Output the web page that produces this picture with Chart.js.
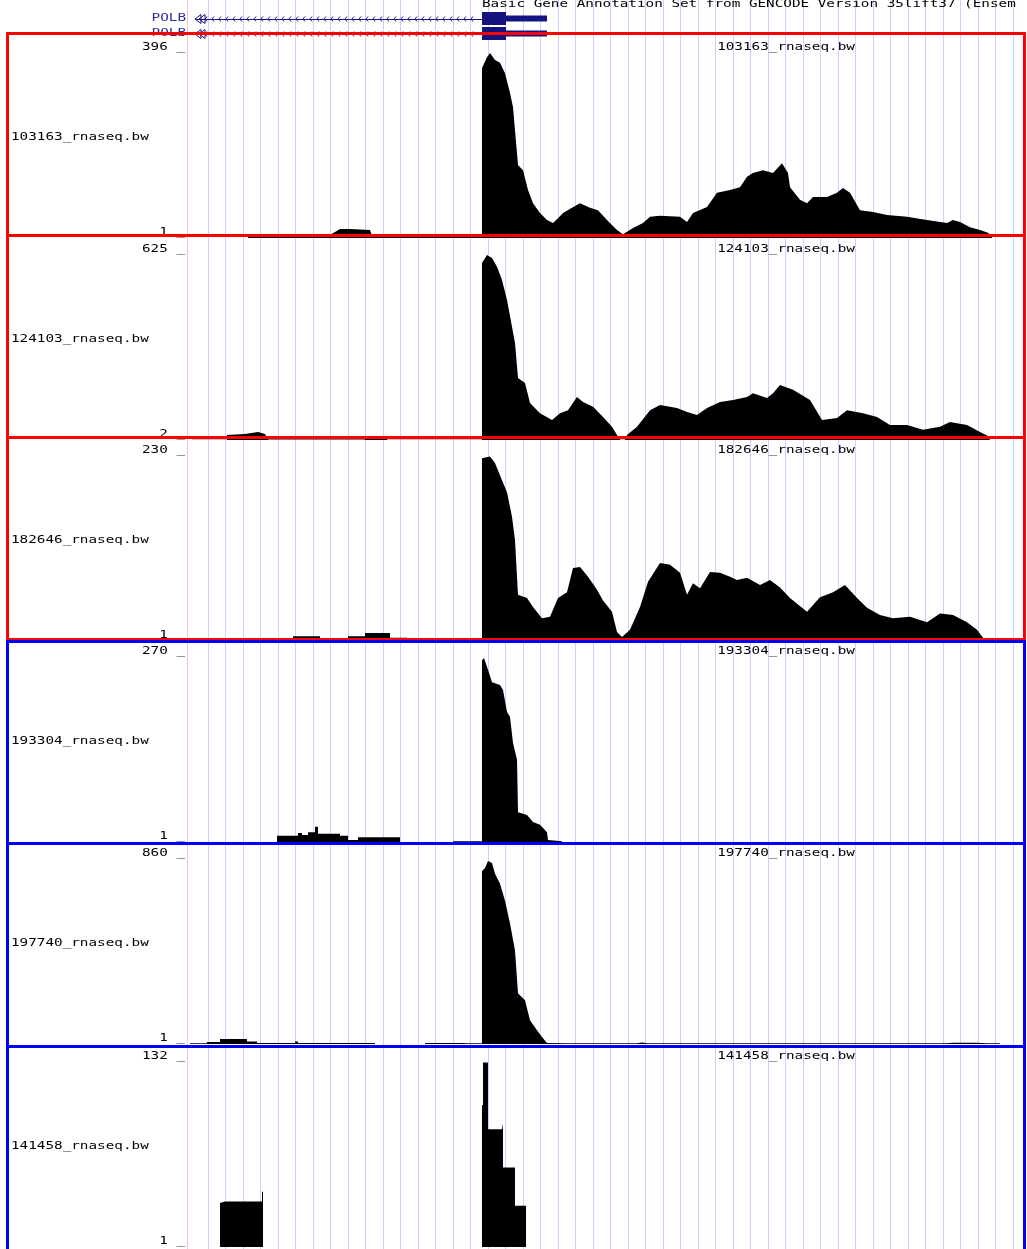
<!DOCTYPE html>
<html><head><meta charset="utf-8">
<script src="https://cdn.jsdelivr.net/npm/chart.js@4/dist/chart.umd.min.js"></script>
<style>
html,body{margin:0;padding:0;background:#fff;}
#wrap{position:relative;width:1027px;height:1249px;overflow:hidden;background:#fff;}
#wrap canvas{position:absolute;left:0;}
.box{position:absolute;box-sizing:border-box;border:3px solid;pointer-events:none;z-index:5;}
</style></head><body><div id="wrap"><canvas id="bg" width="1027" height="1249" style="top:0"></canvas></div>
<script>
// ---------- data (x = position along the window, y = coverage) ----------
const trackNames = ['103163_rnaseq.bw','124103_rnaseq.bw','182646_rnaseq.bw','193304_rnaseq.bw','197740_rnaseq.bw','141458_rnaseq.bw'];
const trackMax = [396, 625, 230, 270, 860, 132];
const trackMin = [1, 2, 1, 1, 1, 1];
const trackBoxColor = ['#ff0000','#ff0000','#ff0000','#0000ff','#0000ff','#0000ff'];

const t1X = [61,61,103,141,148,153,163,183,185,295,295,300,303,305,308,313,318,323,326,328,331,336,341,346,353,360,366,371,376,385,393,403,411,420,430,436,446,456,463,473,493,500,506,520,530,543,553,560,566,576,586,595,601,603,613,620,626,640,650,656,663,673,686,700,720,740,760,766,773,783,793,801,805,805];
const t1Y = [1,3,4,5,14,20,20,18,5,5,362,385,394,388,379,373,351,309,279,230,156,145,103,75,54,39,33,43,54,65,75,65,60,39,18,9,22,33,46,48,46,35,54,67,97,103,109,131,139,145,139,160,139,109,82,75,88,88,97,107,97,60,56,50,46,39,33,39,35,24,18,12,3,1];

const t2X = [5,40,40,58,71,78,81,178,178,200,200,295,295,300,305,310,315,320,325,328,331,338,343,353,365,373,381,390,396,406,416,425,430,433,438,440,450,463,473,490,500,510,520,533,546,560,566,580,586,593,606,623,635,650,660,676,690,703,720,736,753,763,780,793,801,803];
const t2Y = [3,3,19,22,29,22,4,4,6,6,3,3,595,622,612,582,538,471,381,327,210,193,126,92,69,92,102,146,129,113,79,46,19,3,3,19,46,102,119,109,96,86,109,129,136,146,159,143,159,186,170,136,69,76,102,92,79,52,52,36,46,62,52,29,15,2];

const t3X = [0,93,93,106,106,133,133,146,146,161,161,178,178,203,203,208,220,220,295,295,303,308,315,320,325,328,331,340,346,355,363,371,380,386,393,401,410,416,425,430,435,443,453,461,473,483,493,500,506,513,523,533,543,550,560,573,583,593,603,620,633,646,658,670,680,693,706,723,740,753,766,780,790,796,803];
const t3Y = [2,2,4,4,7,7,4,4,2,2,7,7,11,11,5,5,5,2,2,226,228,220,199,184,154,125,58,54,43,29,31,54,61,91,92,80,64,51,37,12,6,15,43,74,97,95,85,58,72,66,86,85,80,76,79,70,76,67,54,37,55,61,70,54,42,33,29,31,24,35,33,24,15,5,1];

const t4X = [90,90,111,111,115,115,121,121,128,128,131,131,153,153,161,161,171,171,213,213,266,266,295,295,297,301,305,313,316,320,323,326,330,331,340,346,353,360,361,375,375];
const t4Y = [1,10,10,14,14,11,11,15,15,23,23,13,13,10,10,4,4,8,8,1,1,2,2,264,267,250,232,228,221,189,182,144,120,44,40,30,26,15,4,2,1];

const t5X = [3,20,20,33,33,60,60,70,70,108,108,111,111,188,188,238,238,278,278,295,295,298,301,305,308,313,318,323,328,331,338,343,350,355,360,380,450,455,460,520,760,765,790,800,813,813];
const t5Y = [5,5,10,10,24,24,12,12,6,6,12,12,6,6,1,1,6,6,4,4,800,814,846,837,787,741,663,557,433,235,203,111,65,33,6,4,4,8,4,4,4,7,7,4,4,1];

const t6X = [33,33,38,75,75,76,76,295,295,296,296,301,301,315,316,316,328,328,339,339];
const t6Y = [1,32,33,33,40,40,1,1,101,101,131,131,84,84,88,57,57,30,30,1];

const trackX = [t1X,t2X,t3X,t4X,t5X,t6X];
const trackY = [t1Y,t2Y,t3Y,t4Y,t5Y,t6Y];

// gene annotation (same x units)
const annotTitle = 'Basic Gene Annotation Set from GENCODE Version 35lift37 (Ensem';
const geneNames = ['POLB','POLB'];
const geneTxStart = 8, geneCdsStart = 295, geneCdsEnd = 319, geneTxEnd = 360;

// ---------- layout ----------
const X_MIN = 0, X_MAX = 840;
const PLOT_LEFT = 187;
const trackBase = [238, 440, 641, 842, 1044, 1247];
const DATA_H = 186, SLOT_H = 202;
const boxTop = [32, 234, 436, 640, 842, 1045];
const boxH = [205, 205, 205, 205, 206, 215];
const geneRowY = [18.5, 33.5];
const gridX = [0]; for (let k = 0; k < 47; k++) gridX.push(21 + 17.5 * k);

const FONT = '11px "DejaVu Sans Mono", monospace';
const TEXT_SX = 1.3;
function drawText(ctx, text, x, y, align, baseline, color) {
  ctx.save();
  ctx.font = FONT;
  ctx.fillStyle = color; ctx.textAlign = align; ctx.textBaseline = baseline;
  ctx.translate(x, y); ctx.scale(TEXT_SX, 1);
  ctx.fillText(text, 0, 0);
  ctx.restore();
}

const wrap = document.getElementById('wrap');

// background chart: guide lines + gene annotation header
const headerPlugin = {
  id: 'header',
  afterDraw(chart) {
    const ctx = chart.ctx, xs = chart.scales.x;
    const navy = '#14147e';
    drawText(ctx, annotTitle, xs.getPixelForValue(geneCdsStart), 7, 'left', 'alphabetic', '#000');
    geneNames.forEach((name, r) => {
      const cy = geneRowY[r];
      drawText(ctx, name, 186, cy, 'right', 'middle', '#2c2c9c');
      const a = xs.getPixelForValue(geneTxStart), b = xs.getPixelForValue(geneCdsStart);
      const c = xs.getPixelForValue(geneCdsEnd), d = xs.getPixelForValue(geneTxEnd);
      ctx.save();
      ctx.strokeStyle = navy; ctx.fillStyle = navy; ctx.lineWidth = 1;
      ctx.beginPath(); ctx.moveTo(a, Math.round(cy) + 0.5); ctx.lineTo(b, Math.round(cy) + 0.5); ctx.stroke();
      for (let x = a + 10; x < b - 4; x += 7) {
        ctx.beginPath(); ctx.moveTo(x + 2, cy - 2); ctx.lineTo(x, cy + 0.5); ctx.lineTo(x + 2, cy + 3); ctx.stroke();
      }
      [a, a + 4].forEach(t => {
        ctx.beginPath(); ctx.moveTo(t + 6, cy - 4); ctx.lineTo(t, cy + 0.5); ctx.lineTo(t + 6, cy + 5); ctx.closePath(); ctx.stroke();
      });
      ctx.fillRect(b, cy - 6.5, c - b, 13);
      ctx.fillRect(c, cy - 3, d - c, 6);
      ctx.restore();
    });
  }
};

new Chart(document.getElementById('bg'), {
  type: 'line',
  data: { datasets: [] },
  options: {
    responsive: false, animation: false, events: [],
    layout: { padding: { left: PLOT_LEFT, right: 0, top: 0, bottom: 0 } },
    scales: {
      x: {
        type: 'linear', min: X_MIN, max: X_MAX,
        ticks: { display: false }, border: { display: false },
        grid: { drawTicks: false, lineWidth: 1,
          color: c => (c.tick && c.tick.value === 0) ? '#ffc0c0' : '#cfcfff' },
        afterBuildTicks: s => { s.ticks = gridX.map(v => ({ value: v })); },
        afterFit: s => { s.height = 0; }
      },
      y: { display: false, min: 0, max: 1 }
    },
    plugins: { legend: { display: false }, tooltip: { enabled: false } }
  },
  plugins: [headerPlugin]
});

// track charts
trackNames.forEach((name, i) => {
  const base = trackBase[i];
  const cv = document.createElement('canvas');
  cv.width = 1027; cv.height = SLOT_H + 2;
  cv.style.top = (base - SLOT_H) + 'px';
  wrap.appendChild(cv);
  const lbl = {
    id: 'lbl' + i,
    afterDraw(chart) {
      const ctx = chart.ctx;
      drawText(ctx, name, 11, SLOT_H - 101, 'left', 'middle', '#000');
      drawText(ctx, trackMax[i] + ' _', 185, SLOT_H - 191, 'right', 'middle', '#000');
      drawText(ctx, trackMin[i] + ' _', 185, SLOT_H - 6, 'right', 'middle', '#000');
      drawText(ctx, name, 786, SLOT_H - 191, 'center', 'middle', '#000');
    }
  };
  new Chart(cv, {
    type: 'line',
    data: { datasets: [{
      data: trackX[i].map((x, k) => ({ x, y: trackY[i][k] })),
      fill: 'start', backgroundColor: '#000', borderColor: '#000', borderWidth: 0,
      pointRadius: 0, tension: 0
    }] },
    options: {
      responsive: false, animation: false, events: [],
      layout: { padding: { left: PLOT_LEFT, right: 0, top: SLOT_H - DATA_H, bottom: 2 } },
      scales: {
        x: { type: 'linear', display: false, min: X_MIN, max: X_MAX },
        y: { display: false, min: trackMin[i], max: trackMax[i] }
      },
      plugins: { legend: { display: false }, tooltip: { enabled: false } }
    },
    plugins: [lbl]
  });
  const box = document.createElement('div');
  box.className = 'box';
  box.style.cssText = `left:6px;width:1020px;top:${boxTop[i]}px;height:${boxH[i]}px;border-color:${trackBoxColor[i]};`;
  wrap.appendChild(box);
});
</script></body></html>
